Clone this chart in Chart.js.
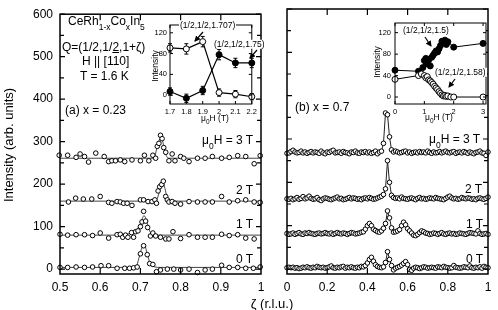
<!DOCTYPE html>
<html><head><meta charset="utf-8">
<script src="https://cdn.jsdelivr.net/npm/chart.js@4.4.1/dist/chart.umd.min.js"></script>
<style>
body{margin:0;background:#fff}
#wrap{position:relative;width:498px;height:310px;overflow:hidden;font-family:'Liberation Sans',Arial,Helvetica,sans-serif;color:#000;background:#fff}
canvas{position:absolute}
.t{position:absolute;white-space:nowrap;line-height:1;font-size:12px;transform:translateY(-50%)}
.c{transform:translate(-50%,-50%)}
.r{transform:translate(-50%,-50%) rotate(-90deg)}
.s{font-size:8.5px}
.sub{font-size:8.5px;vertical-align:-5px}
.bg{background:#fff;padding:0 1px}
</style></head><body><div id="wrap">
<canvas id="cL" width="272" height="300" style="left:0;top:0"></canvas>
<canvas id="cR" width="226" height="300" style="left:272px;top:0"></canvas>
<canvas id="iL" width="115" height="128" style="left:145px;top:0"></canvas>
<canvas id="iR" width="128" height="128" style="left:365px;top:0"></canvas>
<svg width="498" height="310" style="position:absolute;left:0;top:0">
<defs><marker id="ah" markerWidth="6" markerHeight="6" refX="5" refY="3" orient="auto" markerUnits="userSpaceOnUse"><path d="M0,0 L6,3 L0,6 z" fill="#000"/></marker></defs>
<g stroke="#000" stroke-width="1.2" marker-end="url(#ah)">
<line x1="203" y1="32" x2="195" y2="41"/>
<line x1="257" y1="50" x2="250" y2="58"/>
<line x1="425" y1="37" x2="431" y2="46"/>
<line x1="455" y1="79" x2="449" y2="87"/>
</g></svg>
<div class="t" style="left:68px;top:23px">CeRh<span class="sub">1-x</span>Co<span class="sub">x</span>In<span class="sub">5</span></div>
<div class="t" style="left:62px;top:47px">Q=(1/2,1/<u>2</u>,1+ζ)</div>
<div class="t" style="left:82px;top:61px">H || [110]</div>
<div class="t" style="left:80px;top:76px">T = 1.6 K</div>
<div class="t" style="left:65px;top:110px">(a) x = 0.23</div>
<div class="t" style="left:202px;top:142px">μ<span class="sub">0</span>H = 3 T</div>
<div class="t" style="left:236px;top:190px">2 T</div>
<div class="t" style="left:236px;top:224px">1 T</div>
<div class="t" style="left:236px;top:259px">0 T</div>
<div class="t" style="left:295px;top:107px">(b) x = 0.7</div>
<div class="t" style="left:429px;top:141px">μ<span class="sub">0</span>H = 3 T</div>
<div class="t" style="left:465px;top:189px">2 T</div>
<div class="t" style="left:466px;top:224px">1 T</div>
<div class="t" style="left:466px;top:259px">0 T</div>
<div class="t c" style="left:272px;top:303px;font-size:13px">ζ (r.l.u.)</div>
<div class="t r" style="left:8px;top:145px;font-size:13px">Intensity (arb. units)</div>
<div class="t s bg" style="left:179px;top:25px">(1/2,1/2,1.707)</div>
<div class="t s bg" style="left:213px;top:44px">(1/2,1/2,1.75)</div>
<div class="t s" style="left:403px;top:30px">(1/2,1/2,1.5)</div>
<div class="t s bg" style="left:434px;top:72px">(1/2,1/2,1.58)</div>
<div class="t s r" style="left:155px;top:66px">Intensity</div>
<div class="t s c" style="left:215px;top:120px">μ<span style="font-size:6.5px;vertical-align:-3px">0</span>H (T)</div>
<div class="t s r" style="left:377px;top:62px">Intensity</div>
<div class="t s c" style="left:439px;top:119px">μ<span style="font-size:6.5px;vertical-align:-3px">0</span>H (T)</div>
</div>
<script>
// ---------- data ----------
const yTicksMain = [0,100,200,300,400,500,600];
const yMinorMain = [50,150,250,350,450,550];
const xTicksLeft = [0.5,0.6,0.7,0.8,0.9,1.0];
const xTicksRight = [0,0.2,0.4,0.6,0.8,1.0];

const leftZeta0T = [0.50,0.519,0.540,0.561,0.581,0.602,0.621,0.642,0.661,0.673,0.683,0.692,0.700,0.708,0.717,0.723,0.731,0.740,0.750,0.767,0.783,0.800,0.821,0.842,0.861,0.879,0.902,0.921,0.942,0.962,0.981,0.998];
const leftI0T = [4,4,5,4,5,8,8,2,2,2,3,5,36,55,34,13,11,-6,-2,0,0,-2,0,-8,-2,0,9,4,4,2,2,5];
const leftZeta1T = [0.50,0.519,0.540,0.561,0.581,0.600,0.621,0.642,0.650,0.656,0.663,0.669,0.678,0.683,0.688,0.694,0.700,0.704,0.708,0.713,0.718,0.725,0.731,0.738,0.750,0.763,0.771,0.781,0.800,0.821,0.842,0.861,0.879,0.902,0.921,0.942,0.962,0.983];
const leftI1T = [82,80,81,81,79,85,73,81,82,75,80,75,86,75,88,90,100,111,136,113,98,78,85,78,75,71,71,88,72,81,75,75,75,82,79,81,73,71];
const leftZeta2T = [0.521,0.539,0.558,0.579,0.600,0.621,0.629,0.642,0.650,0.658,0.667,0.679,0.700,0.708,0.719,0.729,0.736,0.740,0.744,0.748,0.753,0.757,0.763,0.767,0.771,0.779,0.786,0.800,0.821,0.842,0.861,0.879,0.902,0.921,0.942,0.962,0.983,0.998];
const leftI2T = [158,167,165,165,171,157,155,159,158,155,155,150,163,163,159,159,163,155,184,194,199,207,171,163,158,159,155,153,159,158,158,158,171,158,161,163,158,157];
const leftZeta3T = [0.498,0.519,0.540,0.550,0.561,0.571,0.589,0.610,0.621,0.629,0.638,0.650,0.661,0.679,0.700,0.710,0.721,0.731,0.738,0.742,0.746,0.750,0.754,0.758,0.763,0.771,0.779,0.786,0.800,0.808,0.821,0.842,0.861,0.879,0.902,0.921,0.942,0.962,0.983,0.998];
const leftI3T = [268,268,263,271,265,252,273,265,253,255,255,257,253,257,255,268,255,268,261,289,296,315,307,286,275,255,271,255,265,261,253,261,261,265,261,263,267,265,248,267];

// fit curves
const fitZeta0T = [0.50,0.685,0.690,0.696,0.704,0.710,0.717,0.723,0.729,0.736,0.750,1.0];
const fitI0T = [4,4,6,25,51,57,36,17,9,5,4,4];
const fitZeta1T = [0.50,0.65,0.67,0.68,0.69,0.70,0.709,0.716,0.722,0.73,0.74,1.0];
const fitI1T = [80,80,83,86,92,106,126,112,92,82,80,80];
const fitZeta2T = [0.50,0.735,0.742,0.748,0.754,0.757,0.761,0.767,0.775,1.0];
const fitI2T = [160,160,166,185,202,203,190,168,160,160];
const fitZeta3T = [0.50,0.733,0.741,0.748,0.753,0.758,0.764,0.771,1.0];
const fitI3T = [261,261,284,306,308,290,268,261,261];

const rightZeta = [0,0.01,0.02,0.03,0.04,0.05,0.06,0.07,0.08,0.09,0.10,0.11,0.12,0.13,0.14,0.15,0.16,0.17,0.18,0.19,0.20,0.21,0.22,0.23,0.24,0.25,0.26,0.27,0.28,0.29,0.30,0.31,0.32,0.33,0.34,0.35,0.36,0.37,0.38,0.39,0.40,0.41,0.42,0.43,0.44,0.45,0.46,0.47,0.48,0.49,0.50,0.51,0.52,0.53,0.54,0.55,0.56,0.57,0.58,0.59,0.60,0.61,0.62,0.63,0.64,0.65,0.66,0.67,0.68,0.69,0.70,0.71,0.72,0.73,0.74,0.75,0.76,0.77,0.78,0.79,0.80,0.81,0.82,0.83,0.84,0.85,0.86,0.87,0.88,0.89,0.90,0.91,0.92,0.93,0.94,0.95,0.96,0.97,0.98,0.99,1.0];
const rightI0T = [3,4,3,4,2,3,1,2,4,3,5,3,2,4,3,6,4,3,4,2,3,5,7,3,2,4,3,5,6,2,4,3,5,3,2,4,3,6,
  5,8,14,22,27,18,10,6,4,3,5,15,40,22,8,-2,2,4,6,9,13,17,10,-1,-3,
  2,4,3,1,3,5,4,2,3,4,3,2,5,4,3,6,4,3,2,3,8,4,3,2,3,5,4,3,7,3,2,4,3,5,2,6,4,3];
const rightI1T = [82,80,81,83,80,82,84,81,80,83,82,84,82,81,80,82,83,81,82,84,82,81,83,80,82,84,82,81,83,82,80,82,84,83,81,82,83,85,
  86,92,100,105,100,92,89,86,85,88,94,105,134,118,95,85,86,88,91,100,108,102,93,88,83,78,77,80,84,88,86,
  83,82,80,81,83,82,80,82,84,81,80,82,83,81,82,80,81,83,82,81,80,82,84,83,82,81,88,82,80,81,82,80];
const rightI2T = [162,161,163,160,162,165,161,163,167,162,164,168,163,161,162,165,160,158,162,164,163,161,160,162,164,166,162,163,160,161,163,165,162,164,163,161,162,160,163,164,162,165,163,161,162,164,166,
  168,172,185,250,200,170,165,163,
  164,162,166,163,162,161,163,164,162,160,163,165,162,163,161,162,164,163,162,165,163,162,161,160,163,166,168,164,162,163,161,162,165,163,162,164,163,161,162,160,163,164,162,161,163,166];
const rightI3T = [267,268,271,274,270,268,269,272,268,270,267,269,271,268,270,269,267,272,268,266,270,269,272,274,268,269,270,267,271,269,268,266,270,269,272,268,267,270,269,271,268,270,267,269,272,266,270,
  272,290,360,356,305,275,270,272,
  270,268,269,271,272,268,270,267,269,270,268,271,269,270,268,272,269,267,270,268,269,271,268,270,272,269,268,270,271,267,269,270,268,271,269,267,270,268,266,269,270,272,268,267,262,270];

// insets
const insetLField = [1.7,1.8,1.9,2.0,2.1,2.2];
const insetL1707 = [91,89,103,5,2,-3];
const insetL1707Err = [8,10,10,7,7,6];
const insetL175 = [7,-6,9,78,62,62];
const insetL175Err = [7,8,8,10,9,9];
const insetLXTicks = [1.7,1.8,1.9,2.0,2.1,2.2];
const insetYTicks = [0,40,80,120];

const insetRField15 = [0,0.8,0.95,1.0,1.05,1.1,1.15,1.2,1.25,1.3,1.35,1.4,1.45,1.5,1.55,1.6,1.65,1.7,1.75,1.8,2.0,3.0];
const insetR15 = [50,48,55,68,72,62,70,58,74,78,82,86,84,90,96,104,102,106,98,103,93,100];
const insetRField158 = [0,0.8,0.9,1.0,1.05,1.1,1.15,1.2,1.25,1.3,1.35,1.4,1.45,1.5,1.55,1.6,1.65,1.7,1.75,1.8,1.9,2.0,3.0];
const insetR158 = [33,40,43,40,36,38,32,30,27,24,20,17,14,10,7,4,2,3,1,2,0,0,0];
const insetRXTicks = [0,1,2,3];

// ---------- helpers ----------
const FONT = "'Liberation Sans', Arial, Helvetica, sans-serif";
Chart.defaults.font.family = FONT;
Chart.defaults.color = '#000';
const pts = (xs, ys) => xs.map((x, i) => ({x, y: ys[i]}));
const fmt = v => String(+Number(v).toFixed(2));

const axisBox = {
  id: 'axisBox',
  beforeDraw(chart, args, o) {
    if (!o.fill) return;
    const a = chart.chartArea, c = chart.ctx;
    c.save(); c.fillStyle = '#fff'; c.fillRect(a.left, a.top, a.width, a.height); c.restore();
  },
  afterDraw(chart, args, o) {
    const a = chart.chartArea, c = chart.ctx, xs = chart.scales.x, ys = chart.scales.y;
    c.save(); c.strokeStyle = '#000'; c.lineWidth = o.tickWidth || 1;
    c.beginPath();
    const tx = (vals, len) => vals.forEach(v => { const p = xs.getPixelForValue(v);
      c.moveTo(p, a.bottom); c.lineTo(p, a.bottom - len); c.moveTo(p, a.top); c.lineTo(p, a.top + len); });
    const ty = (vals, len) => vals.forEach(v => { const p = ys.getPixelForValue(v);
      c.moveTo(a.left, p); c.lineTo(a.left + len, p); c.moveTo(a.right, p); c.lineTo(a.right - len, p); });
    tx(o.xMajor || [], o.xLen); ty(o.yMajor || [], o.yLen); ty(o.yMinor || [], o.yMinLen || 0);
    c.stroke();
    c.lineWidth = o.frameWidth; c.strokeRect(a.left, a.top, a.width, a.height);
    c.restore();
  }
};
const errBars = {
  id: 'errBars',
  beforeDatasetsDraw(chart, args, o) {
    if (!o.sets) return;
    const c = chart.ctx, xs = chart.scales.x, ys = chart.scales.y;
    c.save(); c.strokeStyle = '#000'; c.lineWidth = 1; c.beginPath();
    o.sets.forEach(s => s.x.forEach((xv, i) => {
      const px = xs.getPixelForValue(xv), y1 = ys.getPixelForValue(s.y[i] - s.e[i]), y2 = ys.getPixelForValue(s.y[i] + s.e[i]);
      c.moveTo(px, y1); c.lineTo(px, y2); c.moveTo(px - 2, y1); c.lineTo(px + 2, y1); c.moveTo(px - 2, y2); c.lineTo(px + 2, y2);
    }));
    c.stroke(); c.restore();
  }
};

function scale(min, max, ticks, size, fontSize, padding, show, isX) {
  return {
    type: 'linear', min, max,
    grid: {display: false, drawTicks: false}, border: {display: false},
    ticks: {display: show, font: {size: fontSize, family: FONT}, color: '#000', padding, autoSkip: false, maxRotation: 0, callback: fmt},
    afterBuildTicks: s => { s.ticks = ticks.map(v => ({value: v})); },
    afterFit: s => { if (isX) s.height = size; else s.width = size; }
  };
}
function baseOpts(xs, ys, padding, box, extra) {
  return {
    responsive: false, animation: false, devicePixelRatio: 1,
    layout: {padding},
    scales: {x: xs, y: ys},
    plugins: Object.assign({legend: {display: false}, tooltip: {enabled: false}, axisBox: box}, extra || {})
  };
}
const R = 2.3;
const openPts = (data) => ({data, showLine: false, pointRadius: R, pointBorderWidth: 1, pointBorderColor: '#000', pointBackgroundColor: '#fff', order: 1, clip: 5});
const fitLine = (data) => ({data, showLine: true, pointRadius: 0, borderColor: '#444', borderWidth: 1, cubicInterpolationMode: 'monotone', tension: 0.4, order: 2, clip: 2});
const connected = (data) => ({data, showLine: true, borderColor: '#222', borderWidth: 1, pointRadius: R, pointBorderWidth: 1, pointBorderColor: '#000', pointBackgroundColor: '#fff', clip: 5});

// ---------- left main ----------
new Chart(document.getElementById('cL'), {
  type: 'scatter',
  data: {datasets: [
    fitLine(pts(fitZeta0T, fitI0T)), fitLine(pts(fitZeta1T, fitI1T)), fitLine(pts(fitZeta2T, fitI2T)), fitLine(pts(fitZeta3T, fitI3T)),
    openPts(pts(leftZeta0T, leftI0T)), openPts(pts(leftZeta1T, leftI1T)), openPts(pts(leftZeta2T, leftI2T)), openPts(pts(leftZeta3T, leftI3T))
  ]},
  options: baseOpts(
    scale(0.5, 1.0, xTicksLeft, 26, 12, 6, true, true),
    scale(-11.5, 600, yTicksMain, 60, 12, 7, true, false),
    {top: 9, right: 11, left: 0, bottom: 0},
    {xMajor: xTicksLeft.slice(1, -1), xLen: 6, yMajor: yTicksMain, yLen: 5, yMinor: yMinorMain, yMinLen: 4, frameWidth: 1.5, tickWidth: 1.2}),
  plugins: [axisBox]
});
// ---------- right main ----------
new Chart(document.getElementById('cR'), {
  type: 'scatter',
  data: {datasets: [
    connected(pts(rightZeta, rightI0T)), connected(pts(rightZeta, rightI1T)), connected(pts(rightZeta, rightI2T)), connected(pts(rightZeta, rightI3T))
  ]},
  options: baseOpts(
    scale(0, 1.0, xTicksRight, 26, 12, 6, true, true),
    scale(-11.5, 600, yTicksMain, 15, 12, 7, false, false),
    {top: 9, right: 10, left: 0, bottom: 0},
    {xMajor: xTicksRight.slice(1, -1), xLen: 6, yMajor: yTicksMain, yLen: 5, yMinor: yMinorMain, yMinLen: 4, frameWidth: 1.5, tickWidth: 1.2}),
  plugins: [axisBox]
});
// ---------- left inset ----------
new Chart(document.getElementById('iL'), {
  type: 'scatter',
  data: {datasets: [
    {data: pts(insetLField, insetL1707), showLine: true, borderColor: '#000', borderWidth: 1.2, pointRadius: 3, pointBorderWidth: 1, pointBorderColor: '#000', pointBackgroundColor: '#fff', clip: 5},
    {data: pts(insetLField, insetL175), showLine: true, borderColor: '#000', borderWidth: 1.2, pointRadius: 3, pointBorderWidth: 1, pointBorderColor: '#000', pointBackgroundColor: '#000', clip: 5}
  ]},
  options: baseOpts(
    scale(1.7, 2.2, insetLXTicks, 24, 7.5, 3, true, true),
    scale(-17, 135, insetYTicks, 25, 7.5, 3, true, false),
    {top: 25, right: 6, left: 0, bottom: 0},
    {fill: true, xMajor: insetLXTicks, xLen: 3, yMajor: insetYTicks, yLen: 3, frameWidth: 1, tickWidth: 1},
    {errBars: {sets: [{x: insetLField, y: insetL1707, e: insetL1707Err}, {x: insetLField, y: insetL175, e: insetL175Err}]}}),
  plugins: [axisBox, errBars]
});
// ---------- right inset ----------
new Chart(document.getElementById('iR'), {
  type: 'scatter',
  data: {datasets: [
    {data: pts(insetRField158, insetR158), showLine: true, borderColor: '#000', borderWidth: 1, pointRadius: 3, pointBorderWidth: 1, pointBorderColor: '#000', pointBackgroundColor: '#fff', clip: 5},
    {data: pts(insetRField15, insetR15), showLine: true, borderColor: '#000', borderWidth: 1, pointRadius: 3, pointBorderWidth: 1, pointBorderColor: '#000', pointBackgroundColor: '#000', clip: 5}
  ]},
  options: baseOpts(
    scale(0, 3.1, insetRXTicks, 24, 7.5, 3, true, true),
    scale(-13, 138, insetYTicks, 30, 7.5, 4, true, false),
    {top: 23, right: 7, left: 0, bottom: 0},
    {fill: true, xMajor: insetRXTicks, xLen: 3, yMajor: insetYTicks, yLen: 3, frameWidth: 1, tickWidth: 1}),
  plugins: [axisBox]
});
</script>
</body></html>
